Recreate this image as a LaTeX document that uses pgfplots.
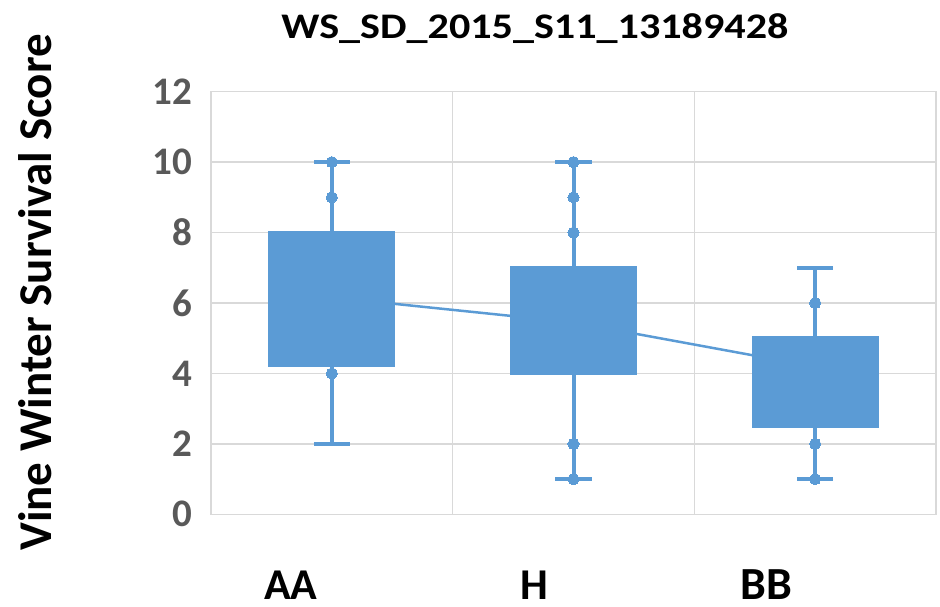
\documentclass[border=0pt]{standalone}
\usepackage{pgfplots}
\pgfplotsset{compat=1.18}
\usepgfplotslibrary{statistics}
\usepackage{fontspec}
\setmainfont{Carlito}
\definecolor{boxblue}{HTML}{5B9BD5}
\definecolor{gridgray}{HTML}{D9D9D9}
\definecolor{ticklab}{HTML}{595959}
\begin{document}
\begin{tikzpicture}
\path[use as bounding box] (0pt,0pt) rectangle (940pt,606pt);
\begin{axis}[
  at={(211pt,91.7pt)}, anchor=south west,
  scale only axis, width=725pt, height=422.6pt,
  xmin=0.5, xmax=3.5, ymin=0, ymax=12,
  xtick={0.5,1.5,2.5,3.5}, xticklabels={},
  ytick={0,2,4,6,8,10,12},
  grid=major, major grid style={draw=gridgray, line width=1.3pt},
  axis line style={draw=gridgray, line width=1.3pt},
  major tick length=0pt,
  /pgf/number format/assume math mode=true,
  yticklabel style={font=\bfseries\fontsize{39}{42}\selectfont, text=ticklab, inner sep=0pt, xshift=-19pt},
  clip=false,
  boxplot/draw direction=y,
  boxplot/box extend=0.51,
  boxplot/whisker extend=0.149,
]
\addplot[boxblue, line width=2.5pt] coordinates {(1,6.16) (2,5.45) (3,4.19)};
\addplot[boxplot prepared={draw position=1, lower whisker=2, lower quartile=4.25, median=6, upper quartile=8, upper whisker=10},
  draw=boxblue, fill=boxblue, line width=4pt, solid, mark=none] coordinates {};
\addplot[boxplot prepared={draw position=2, lower whisker=1, lower quartile=4, median=5, upper quartile=7, upper whisker=10},
  draw=boxblue, fill=boxblue, line width=4pt, solid, mark=none] coordinates {};
\addplot[boxplot prepared={draw position=3, lower whisker=1, lower quartile=2.5, median=4, upper quartile=5, upper whisker=7},
  draw=boxblue, fill=boxblue, line width=4pt, solid, mark=none] coordinates {};
\addplot[boxblue, only marks, mark=*, mark size=5.6pt, mark options={draw=boxblue, fill=boxblue, line width=0pt}] coordinates {
  (1,10) (1,9) (1,4)
  (2,10) (2,9) (2,8) (2,2) (2,1)
  (3,6) (3,2) (3,1)};
\node[anchor=base, font=\bfseries\fontsize{36}{40}\selectfont] at (axis cs:1.84,13.52) {\scalebox{1.17}[1]{WS\_SD\_2015\_S11\_13189428}};
\node[anchor=base, rotate=90, font=\bfseries\fontsize{47}{50}\selectfont] at (axis cs:-0.158,6.30) {Vine Winter Survival Score};
\node[anchor=base, inner sep=0pt, font=\bfseries\fontsize{44}{48}\selectfont] at (axis cs:0.831,-2.43) {AA};
\node[anchor=base, inner sep=0pt, font=\bfseries\fontsize{44}{48}\selectfont] at (axis cs:1.839,-2.43) {H};
\node[anchor=base, inner sep=0pt, font=\bfseries\fontsize{46}{50}\selectfont] at (axis cs:2.797,-2.43) {BB};
\end{axis}
\end{tikzpicture}
\end{document}
